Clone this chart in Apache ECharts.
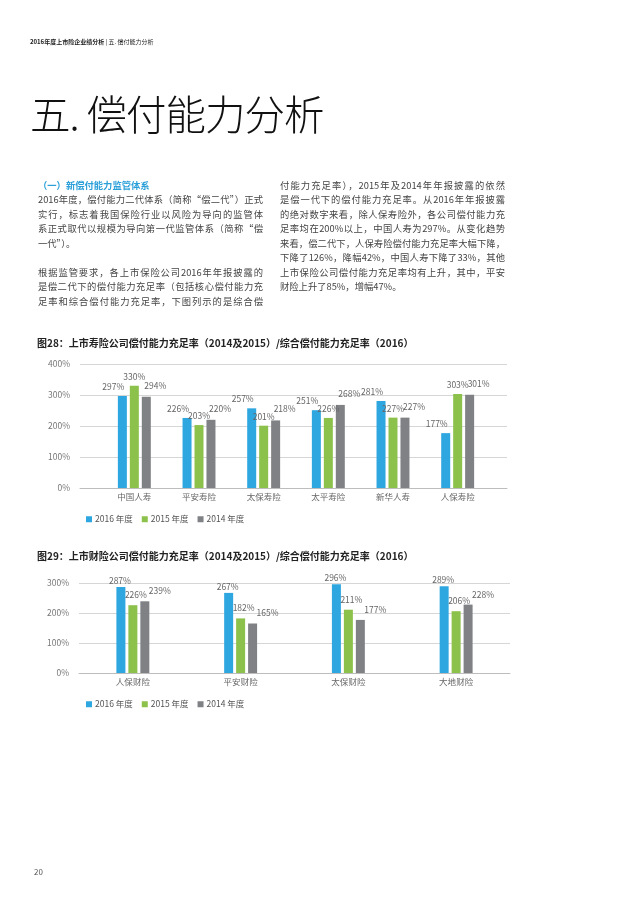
<!DOCTYPE html>
<html style="height: 100%;margin: 0;padding: 0;">
<head>
<meta charset="utf-8">
<title>五. 偿付能力分析</title>
<script src="https://cdn.jsdelivr.net/npm/echarts@6.0.0/dist/echarts.min.js"></script>
<style>
body { margin:0; padding:0; background:#fff; font-family:"Noto Sans CJK SC", sans-serif; color:#444; }
#page { position:relative; width:640px; height:905px; overflow:hidden; }
#main { position:absolute; left:0; top:0; width:640px; height:905px; }
.txt { position:absolute; z-index:2; }
.head { left:30px; top:37px; font-size:6px; color:#222; white-space:nowrap; }
.head b { font-weight:bold; }
.big { left:30px; top:83px; font-size:40.5px; font-weight:300; color:#111; white-space:nowrap; letter-spacing:-1px; }
.col { top:178px; width:225px; font-size:9.3px; line-height:14.45px; color:#444; }
.col div { text-align:justify; text-align-last:justify; white-space:nowrap; }
.col div.end { text-align-last:left; }
.col .sub { color:#2a9fd8; font-weight:bold; text-align-last:left; }
.pn { left:34px; top:866px; font-size:8px; color:#555; }
</style>
</head>
<body>
<div id="page">
  <div id="main"></div>
  <div class="txt head"><b>2016年度上市险企业绩分析</b> | 五. 偿付能力分析</div>
  <div class="txt big">五. 偿付能力分析</div>
  <div class="txt col" style="left:38px;">
    <div class="sub">（一）新偿付能力监管体系</div>
    <div>2016年度，偿付能力二代体系（简称“偿二代”）正式</div>
    <div>实行，标志着我国保险行业以风险为导向的监管体</div>
    <div>系正式取代以规模为导向第一代监管体系（简称“偿</div>
    <div class="end">一代”）。</div>
    <div class="end">&nbsp;</div>
    <div>根据监管要求，各上市保险公司2016年年报披露的</div>
    <div>是偿二代下的偿付能力充足率（包括核心偿付能力充</div>
    <div>足率和综合偿付能力充足率，下图列示的是综合偿</div>
  </div>
  <div class="txt col" style="left:280px;">
    <div>付能力充足率），2015年及2014年年报披露的依然</div>
    <div>是偿一代下的偿付能力充足率。从2016年年报披露</div>
    <div>的绝对数字来看，除人保寿险外，各公司偿付能力充</div>
    <div>足率均在200%以上，中国人寿为297%。从变化趋势</div>
    <div>来看，偿二代下，人保寿险偿付能力充足率大幅下降，</div>
    <div>下降了126%，降幅42%，中国人寿下降了33%，其他</div>
    <div>上市保险公司偿付能力充足率均有上升，其中，平安</div>
    <div class="end">财险上升了85%，增幅47%。</div>
  </div>
  <div class="txt pn">20</div>
</div>
<script type="text/javascript">
// 图例名称
var years = ['2016 年度', '2015 年度', '2014 年度'];
var colors = ['#2ea7e0', '#8cc14b', '#7f8184'];

// 图28 寿险
var lifeCats = ['中国人寿', '平安寿险', '太保寿险', '太平寿险', '新华人寿', '人保寿险'];
var life2016 = [297, 226, 257, 251, 281, 177];
var life2015 = [330, 203, 201, 226, 227, 303];
var life2014 = [294, 220, 218, 268, 227, 301];
var lifeTicks = [0, 100, 200, 300, 400];

// 图29 财险
var propCats = ['人保财险', '平安财险', '太保财险', '大地财险'];
var prop2016 = [287, 267, 296, 289];
var prop2015 = [226, 182, 211, 206];
var prop2014 = [239, 165, 177, 228];
var propTicks = [0, 100, 200, 300];

var ff = '"Noto Sans CJK SC", sans-serif';

function valueAxis(grid, ticks) {
    return {
        gridIndex: grid, type: 'value',
        min: ticks[0], max: ticks[ticks.length - 1], interval: ticks[1] - ticks[0],
        axisLine: { show: false }, axisTick: { show: false },
        axisLabel: { formatter: '{value}%', fontSize: 8.5, color: '#777', margin: 10, fontFamily: ff },
        splitLine: { lineStyle: { color: '#d6d6d6', width: 1 } }
    };
}

// 标签错开一点，和原图一样不挤在柱顶正中
function barSeries(xi, yi, data, k, off) {
    return {
        name: years[k], type: 'bar', xAxisIndex: xi, yAxisIndex: yi,
        data: data, barWidth: 9, barGap: '33%',
        itemStyle: { color: colors[k] },
        label: { show: true, position: 'top', distance: 3, offset: off, formatter: '{c}%',
                 fontSize: 8.5, color: '#666', fontFamily: ff }
    };
}

function legendAt(top) {
    return {
        data: years, left: 81, top: top, icon: 'rect', itemWidth: 6, itemHeight: 6,
        itemGap: 9, textStyle: { fontSize: 8.5, color: '#555', fontFamily: ff, padding: [0, 0, 0, -2] }
    };
}

var myChart = echarts.init(document.getElementById('main'));
var option = {
    animation: false,
    title: [
        { text: '图28：上市寿险公司偿付能力充足率（2014及2015）/综合偿付能力充足率（2016）',
          left: 32, top: 333, textStyle: { fontSize: 10, fontWeight: 'bold', color: '#222', fontFamily: ff } },
        { text: '图29：上市财险公司偿付能力充足率（2014及2015）/综合偿付能力充足率（2016）',
          left: 32, top: 546, textStyle: { fontSize: 10, fontWeight: 'bold', color: '#222', fontFamily: ff } }
    ],
    legend: [legendAt(510), legendAt(695)],
    grid: [
        { left: 80, right: 133, top: 364, height: 124 },
        { left: 102, right: 150, top: 364, height: 124 },
        { left: 79, right: 130, top: 583, height: 90 }
    ],
    xAxis: [
        { gridIndex: 0, type: 'category', data: [''], axisTick: { show: false }, axisLabel: { show: false },
          axisLine: { lineStyle: { color: '#bdbdbd' } } },
        { gridIndex: 1, type: 'category', data: lifeCats, axisTick: { show: false }, axisLine: { show: false },
          axisLabel: { fontSize: 8.5, color: '#666', margin: 5, fontFamily: ff } },
        { gridIndex: 2, type: 'category', data: propCats, axisTick: { show: false },
          axisLine: { lineStyle: { color: '#bdbdbd' } },
          axisLabel: { fontSize: 8.5, color: '#666', margin: 5, fontFamily: ff } }
    ],
    yAxis: [
        valueAxis(0, lifeTicks),
        { gridIndex: 1, type: 'value', min: lifeTicks[0], max: lifeTicks[lifeTicks.length - 1], show: false },
        valueAxis(2, propTicks)
    ],
    series: [
        barSeries(1, 1, life2016, 0, [-9, -2]),
        barSeries(1, 1, life2015, 1, [0, -2]),
        barSeries(1, 1, life2014, 2, [9, -4]),
        barSeries(2, 2, prop2016, 0, [-1, 1]),
        barSeries(2, 2, prop2015, 1, [3, -3]),
        barSeries(2, 2, prop2014, 2, [15, -3])
    ]
};
myChart.setOption(option);
</script>
</body>
</html>
